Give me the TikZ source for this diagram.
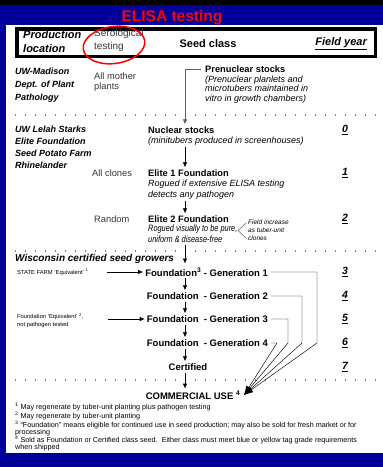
\documentclass[tikz,border=0pt]{standalone}
\usepackage{fontspec}
\setmainfont{Liberation Sans}
\usetikzlibrary{arrows.meta,shapes.geometric}
\definecolor{bluebg}{RGB}{0,0,153}
\definecolor{txtgray}{RGB}{55,55,55}
\definecolor{lngray}{RGB}{95,95,95}
\newcommand\fsz[2]{\fontsize{#1}{#2}\selectfont}
\begin{document}
\begin{tikzpicture}[x=1pt,y=-1pt,
  lbl/.style={inner sep=0pt, anchor=west},
  loc/.style={lbl, align=left, font=\fsz{9}{13}\bfseries\itshape},
  side/.style={lbl, align=left, text=txtgray, font=\fsz{9.3}{10}},
  cls/.style={lbl, font=\fsz{9.3}{11}\bfseries},
  desc/.style={lbl, align=left, font=\fsz{9}{9.7}\itshape},
  gen/.style={inner sep=0pt, anchor=east, font=\fsz{9.5}{11}\bfseries},
  num/.style={lbl, font=\fsz{10.5}{12}\bfseries\itshape},
  small/.style={lbl, align=left, font=\fsz{5.8}{7.5}},
  foot/.style={lbl, align=left, font=\fsz{7.2}{6.9}},
  dotline/.style={line width=1.3pt, line cap=round, dash pattern=on 0pt off 10pt},
  arr/.style={-{Latex[length=5pt,width=4.5pt]}, line width=0.7pt, shorten <=2pt, shorten >=2pt},
  garr/.style={arr, draw=lngray},
  conv/.style={draw=lngray, line width=0.45pt, -{Latex[length=9pt,width=6pt]}, black}
]
\useasboundingbox (0,0) rectangle (383,467);
\fill[bluebg] (0,0) rectangle (383,467);
\fill[black] (0,0) rectangle (383,4.5);
\fill[white] (6,25) rectangle (383,453);

% title
\node[inner sep=0pt, text=red, font=\fsz{15.5}{17}\bfseries] (title) at (172,17.5) {ELISA testing};

% header
\draw[line width=3.5pt] (16.75,28.75) rectangle (375.25,56.25);
\node[lbl, align=left, font=\fsz{11}{14}\bfseries\itshape] (prod) at (23,42) {Production\\location};
\node[lbl, align=left, text=txtgray, font=\fsz{10}{13}] (sero) at (94,40.5) {Serological\\testing};
\node[inner sep=0pt, font=\fsz{11}{13}\bfseries] (seed) at (208,44) {Seed class};
\node[inner sep=0pt, anchor=east, font=\fsz{11}{13}\bfseries\itshape] (fy) at (367,44) {\underline{Field year}};
\node[ellipse, draw=red, line width=1.5pt, minimum width=62pt, minimum height=37pt, rotate=8, inner sep=0pt] (ring) at (114,45) {};

\coordinate (ax) at (185,0);

% section 1
\node[loc] (uwm) at (15,85) {UW-Madison\\Dept. of Plant\\Pathology};
\node[side] (amp) at (94,82) {All mother\\plants};
\node[cls] (pren) at (205,69) {Prenuclear stocks};
\node[desc] (prend) at (205,89.5) {(Prenuclear planlets and\\microtubers maintained in\\vitro in growth chambers)};
\draw[dotline] (15.5,115) -- (377,115);

% section 2
\node[loc, font=\fsz{9}{12}\bfseries\itshape] (uwl) at (15,147) {UW Lelah Starks\\Elite Foundation\\Seed Potato Farm\\Rhinelander};
\node[cls] (nuc) at (148,130) {Nuclear stocks};
\node[desc] (nucd) at (148,141) {(minitubers produced in screenhouses)};
\node[num] (n0) at (342,130) {\underline{0}};

\node[side] (allc) at (92,173) {All clones};
\node[cls] (e1) at (148,173) {Elite 1 Foundation};
\node[num] (n1) at (342,173) {\underline{1}};
\node[desc, font=\fsz{9}{11}\itshape] (e1d) at (148,189.5) {Rogued if extensive ELISA testing\\detects any pathogen};

\node[side] (rand) at (94,219) {Random};
\node[cls] (e2) at (148,219) {Elite 2 Foundation};
\node[num] (n2) at (342,219) {\underline{2}};
\node[desc, font=\fsz{9.2}{11}\itshape\addfontfeatures{FakeStretch=0.8}] (e2d) at (148,233.5) {Rogued visually to be pure,\\uniform \& disease-free};
\node[lbl, align=left, font=\fsz{6.5}{8}\itshape] (fi) at (248,230) {Field increase\\as tuber-unit\\clones};
\draw[lngray, line width=0.5pt] ([shift={(-2,-7)}]fi.west) -- ([shift={(-10,0.5)}]fi.west) -- ([shift={(-2,8)}]fi.west);
\draw[dotline] (15.5,251) -- (377,251);

% section 3
\node[lbl, font=\fsz{10}{12}\bfseries\itshape] (wis) at (15,259) {Wisconsin certified seed growers};
\node[small] (sf) at (17,272) {STATE FARM 'Equivalent' \textsuperscript{1}};
\node[gen] (g1) at (268,272) {Foundation\textsuperscript{3} - Generation 1};
\node[gen] (g2) at (268,296) {Foundation \ - Generation 2};
\node[gen] (g3) at (268,319) {Foundation \ - Generation 3};
\node[gen] (g4) at (268,343) {Foundation \ - Generation 4};
\node[inner sep=0pt, font=\fsz{9.5}{11}\bfseries] (cert) at (188,367) {Certified};
\node[small] (fe) at (17,320.5) {Foundation 'Equivalent' \textsuperscript{2},\\not pathogen tested};
\node[num] (n3) at (342,272) {\underline{3}};
\node[num] (n4) at (342,296) {\underline{4}};
\node[num] (n5) at (342,319) {\underline{5}};
\node[num] (n6) at (342,343) {\underline{6}};
\node[num] (n7) at (342,367) {\underline{7}};
\draw[dotline] (15.5,380) -- (377,380);
\node[inner sep=0pt, font=\fsz{9.5}{11}\bfseries] (com) at (193,395) {COMMERCIAL USE \textsuperscript{4}};

% vertical arrows
\draw[garr, shorten <=0pt] ([xshift=-4pt]pren.west) -| (ax |- nuc.north);
\draw[arr] (ax |- nucd.south) -- (ax |- e1.north);
\draw[arr] (ax |- e1d.south) -- (ax |- e2.north);
\draw[arr, shorten >=4pt] (ax |- e2d.south) -- (ax |- g1.north);
\draw[arr] (ax |- g1.south) -- (ax |- g2.north);
\draw[arr] (ax |- g2.south) -- (ax |- g3.north);
\draw[arr] (ax |- g3.south) -- (ax |- g4.north);
\draw[arr] (ax |- g4.south) -- (ax |- cert.north);
\draw[arr] (ax |- cert.south) -- (ax |- com.north);

% side arrows
\draw[arr] ([xshift=16pt]sf.east) -- (g1.west);
\draw[arr] ([xshift=22pt]fe.north east |- g3.west) -- (g3.west);

% converging lines
\coordinate (tip) at (244,395);
\draw[conv] ([xshift=3pt]g1.east) -| (317,343) -- (tip);
\draw[conv] ([xshift=3pt]g2.east) -| (302,343) -- (tip);
\draw[conv] ([xshift=3pt]g3.east) -| (288,343) -- (tip);
\draw[conv] ([xshift=3pt]g4.east) -- ++(6,0) -- (tip);

% footnotes
\node[foot] (f1) at (15,407) {\textsuperscript{1} May regenerate by tuber-unit planting plus pathogen testing};
\node[foot] (f2) at (15,416) {\textsuperscript{2} May regenerate by tuber-unit planting};
\node[foot] (f3) at (15,428.5) {\textsuperscript{3} ``Foundation'' means eligible for continued use in seed production; may also be sold for fresh market or for\\processing};
\node[foot] (f4) at (15,443.5) {\textsuperscript{4} Sold as Foundation or Certified class seed.\ \ Either class must meet blue or yellow tag grade requirements\\when shipped};
\end{tikzpicture}
\end{document}
